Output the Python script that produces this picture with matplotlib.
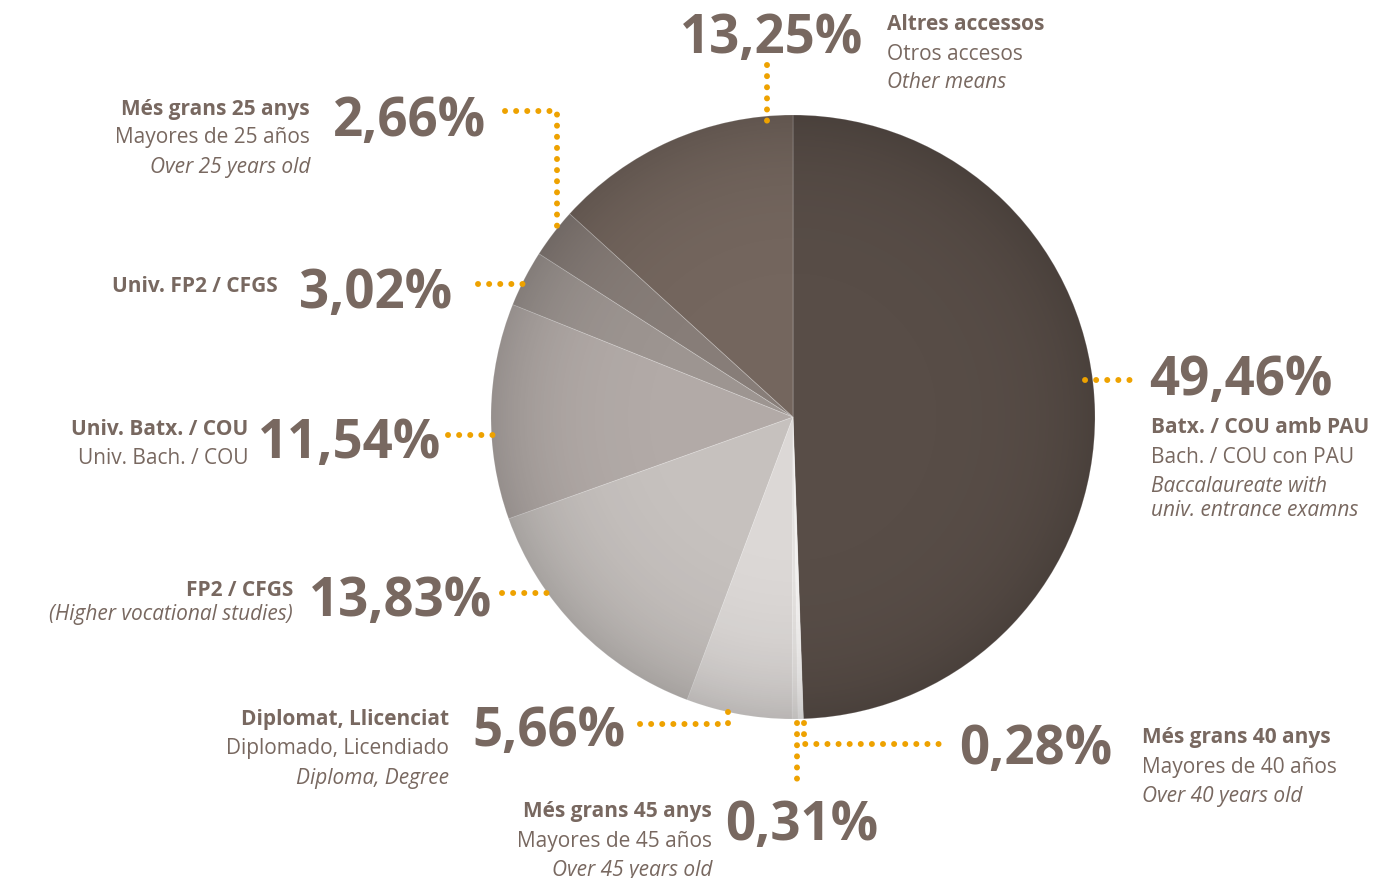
import numpy as np
import matplotlib.pyplot as plt
from matplotlib.patches import Circle

W, H = 1396, 879

# access route shares, clockwise from 12 o'clock
values = [49.46, 0.28, 0.31, 5.66, 13.83, 11.54, 3.02, 2.66, 13.25]
pct_text = ['49,46%', '0,28%', '0,31%', '5,66%', '13,83%', '11,54%', '3,02%', '2,66%', '13,25%']
colors = ['#584d47', '#f2f0ef', '#e4e1df', '#dcd8d6', '#c6c1be',
          '#b2aaa7', '#9d9591', '#877d78', '#74665e']

bold_lines = ['Batx. / COU amb PAU', 'Més grans 40 anys', 'Més grans 45 anys',
              'Diplomat, Llicenciat', 'FP2 / CFGS', 'Univ. Batx. / COU',
              'Univ. FP2 / CFGS', 'Més grans 25 anys', 'Altres accessos']
plain_lines = ['Bach. / COU con PAU', 'Mayores de 40 años', 'Mayores de 45 años',
               'Diplomado, Licendiado', '', 'Univ. Bach. / COU',
               '', 'Mayores de 25 años', 'Otros accesos']
italic_lines = ['Baccalaureate with\nuniv. entrance examns', 'Over 40 years old',
                'Over 45 years old', 'Diploma, Degree', '(Higher vocational studies)',
                '', '', 'Over 25 years old', 'Other means']

TXT = '#786860'
ORANGE = '#eea200'
FONT = 'Open Sans'
cx, cy, R = 793, 418, 302

fig = plt.figure(figsize=(W / 100, H / 100), dpi=100)
ax = fig.add_axes([0, 0, 1, 1])

# y axis runs downward, so counterclock in data = clockwise on screen
wedges, _ = ax.pie(values, colors=colors, startangle=-90, counterclock=True,
                   center=(cx, cy), radius=R, frame=True,
                   wedgeprops=dict(linewidth=0.6, edgecolor='#ffffff40'))
ax.set_xlim(0, W)
ax.set_ylim(H, 0)
ax.set_aspect('equal')
ax.axis('off')

# soft darkening towards the rim
n = 400
gx, gy = np.meshgrid(np.linspace(-1, 1, n), np.linspace(-1, 1, n))
rr = np.sqrt(gx ** 2 + gy ** 2)
shade = np.zeros((n, n, 4))
shade[..., 3] = np.clip(0.16 * rr ** 5, 0, 0.2)
im = ax.imshow(shade, extent=(cx - R, cx + R, cy + R, cy - R), zorder=3,
               interpolation='bilinear')
im.set_clip_path(Circle((cx, cy), R, transform=ax.transData))
ax.set_xlim(0, W)
ax.set_ylim(H, 0)


def dots(xs, ys):
    ax.plot(xs, ys, color=ORANGE, lw=4.3, linestyle=(0, (0.01, 1.85)),
            dash_capstyle='round', zorder=5)


# leader lines
dots([767, 767], [66, 127])
dots([505, 557, 557], [112, 112, 237])
dots([478, 532], [285, 285])
dots([448, 503], [436, 436])
dots([502, 557], [594, 594])
dots([640, 728, 728], [725, 725, 705])
dots([797, 797], [724, 787])
dots([804, 804, 944], [724, 745, 745])
dots([1085, 1138], [381, 381])

BIG = 38
SM = 15


def big(x, y, s, ha='center'):
    ax.text(x, y + 5, s, ha=ha, va='center', fontsize=BIG,
            fontweight='bold', color=TXT, family=FONT)


def block(x, y, i, ha, gaps):
    lines = []
    if bold_lines[i]:
        lines.append((bold_lines[i], 'bold', 'normal'))
    if plain_lines[i]:
        lines.append((plain_lines[i], 'normal', 'normal'))
    if italic_lines[i]:
        for t in italic_lines[i].split('\n'):
            lines.append((t, 'normal', 'italic'))
    yy = y
    for k, (t, w, st) in enumerate(lines):
        ax.text(x, yy, t, ha=ha, va='center', fontsize=SM, fontweight=w,
                style=st, color=TXT, family=FONT)
        if k < len(gaps):
            yy += gaps[k]


# 49,46%
big(1149, 376, pct_text[0], ha='left')
block(1151, 428, 0, 'left', [30, 29, 24])
# 0,28%
big(1036, 745, pct_text[1])
block(1142, 738, 1, 'left', [30, 29])
# 0,31%
big(802, 821, pct_text[2])
block(712, 812, 2, 'right', [30, 29])
# 5,66%
big(549, 727, pct_text[3])
block(449, 720, 3, 'right', [29, 30])
# 13,83%
big(401, 597, pct_text[4])
block(293, 591, 4, 'right', [24])
# 11,54%
big(350, 439, pct_text[5])
block(248, 430, 5, 'right', [29])
# 3,02%
big(376, 289, pct_text[6])
block(278, 287, 6, 'right', [])
# 2,66%
big(410, 117, pct_text[7])
block(310, 109, 7, 'right', [29, 29])
# 13,25%
big(772, 34, pct_text[8])
block(887, 25, 8, 'left', [29, 29])

fig.savefig('out.png', dpi=100)
